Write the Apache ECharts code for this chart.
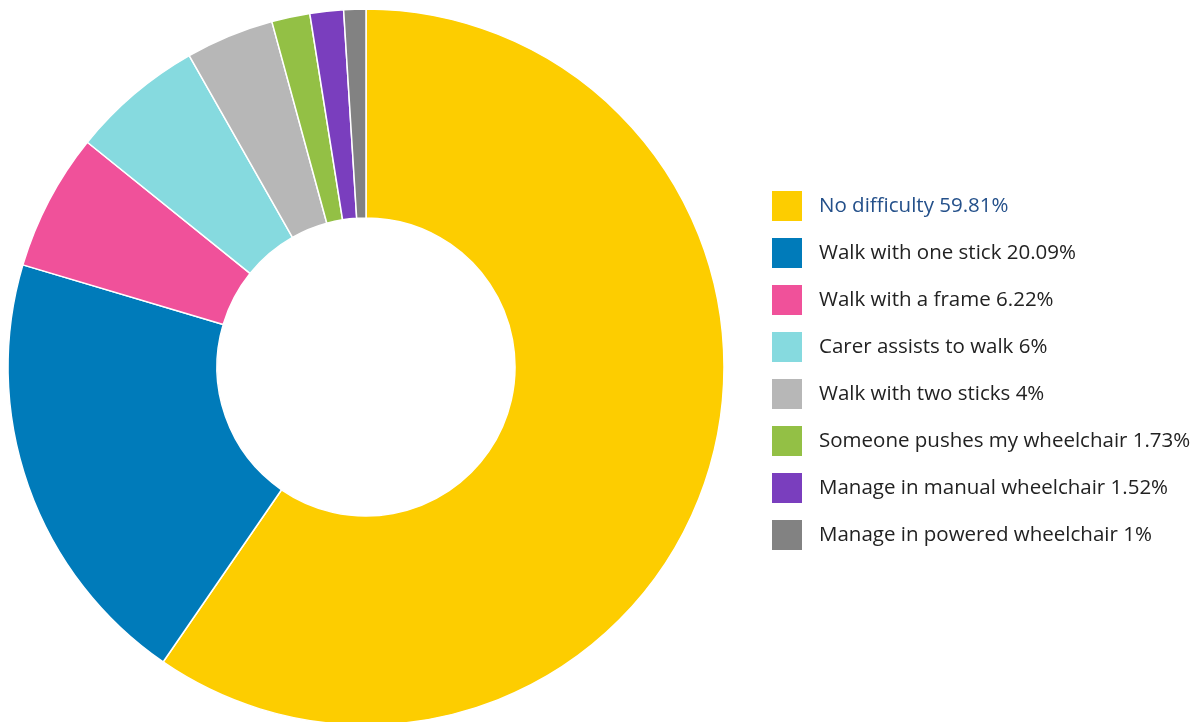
<!DOCTYPE html>
<html>
<head>
<meta charset="utf-8">
<script src="https://cdn.jsdelivr.net/npm/echarts@6/dist/echarts.min.js"></script>
<style>
  html, body { margin: 0; padding: 0; background: #fff; }
  #chart { width: 1200px; height: 722px; }
</style>
</head>
<body>
<div id="chart"></div>
<script>
const categories = [
  "No difficulty",
  "Walk with one stick",
  "Walk with a frame",
  "Carer assists to walk",
  "Walk with two sticks",
  "Someone pushes my wheelchair",
  "Manage in manual wheelchair",
  "Manage in powered wheelchair"
];
const values = [59.81, 20.09, 6.22, 6, 4, 1.73, 1.52, 1];
const colors = ["#FDCD00", "#007BBA", "#F0519A", "#86DADF", "#B7B7B7", "#93C045", "#7A3EBE", "#828282"];

const chart = echarts.init(document.getElementById("chart"));

const legendData = categories.map((name, i) => ({
  name,
  textStyle: { color: i === 0 ? "#24508A" : "#222222" }
}));

chart.setOption({
  animation: false,
  color: colors,
  legend: {
    orient: "vertical",
    left: 765,
    top: 184,
    itemWidth: 32,
    itemHeight: 32,
    itemGap: 13,
    icon: "rect",
    selectedMode: false,
    data: legendData,
    formatter: (name) => name + " " + values[categories.indexOf(name)] + "%",
    textStyle: { fontFamily: "Open Sans", fontSize: 20.5, color: "#222", padding: [0, 0, 0, 11] }
  },
  series: [{
    type: "pie",
    center: [366, 367],
    radius: [149, 358],
    startAngle: 90,
    clockwise: true,
    label: { show: false },
    labelLine: { show: false },
    itemStyle: { borderColor: "#fff", borderWidth: 1.5 },
    data: categories.map((name, i) => ({ name, value: values[i] }))
  }]
});
</script>
</body>
</html>
